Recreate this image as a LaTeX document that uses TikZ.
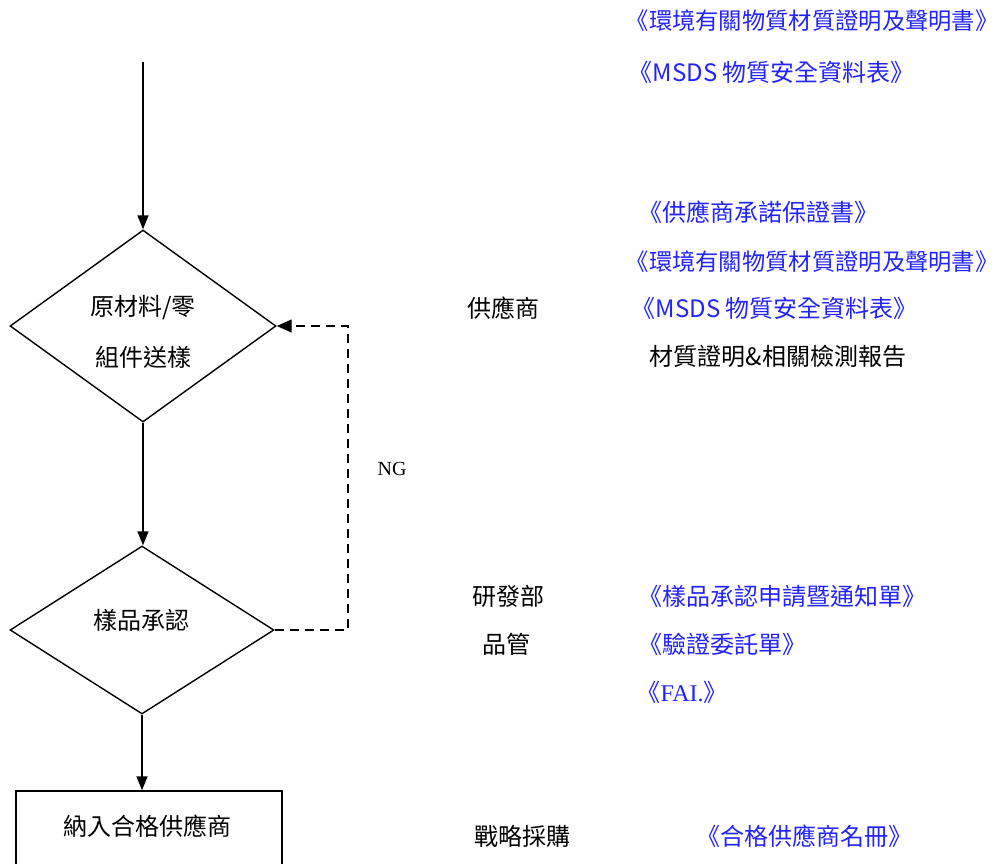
\documentclass[tikz,border=0pt]{standalone}
\usepackage{fontspec}
\setmainfont{Noto Sans CJK TC}
\newfontfamily\tnr{Liberation Serif}
\usetikzlibrary{shapes.geometric,arrows.meta}
\definecolor{docblue}{RGB}{35,35,255}
\begin{document}
\begin{tikzpicture}[x=1pt,y=-1pt,
  line width=1.4pt,
  flow/.style={-{Triangle[length=14pt,width=11pt]}},
  backflow/.style={dash pattern=on 9pt off 6pt,-{Triangle[length=15pt,width=13pt]}},
  dia/.style={draw,diamond,inner sep=0pt},
  txt/.style={inner sep=0pt,font=\fontsize{24}{24}\selectfont},
  reftxt/.style={txt,anchor=west,text=docblue},
  widetxt/.style={reftxt,font=\fontsize{23.3}{24}\selectfont},
  plain/.style={txt,anchor=west},
]
\useasboundingbox (0,0) rectangle (1000,863);
% flow shapes
\coordinate (start) at (143,62);
\node[dia,minimum width=266pt,minimum height=192pt] (d1) at (143,326) {};
\node[dia,minimum width=264pt,minimum height=168pt] (d2) at (142,630) {};
\node[draw,rectangle,minimum width=266pt,minimum height=90pt,inner sep=0pt] (box) at (149,836) {};
\coordinate (ngturn) at (348,326);
% labels inside shapes
\node[txt] (l1a) at (143,308) {原材料/零};
\node[txt] (l1b) at (143,357) {組件送樣};
\node[txt] (l2) at (141,620) {樣品承認};
\node[txt] (l3) at (147,826) {納入合格供應商};
% connectors
\draw[flow] (start) -- (d1.north);
\draw[flow] (d1.south) -- (d1.south |- d2.north);
\draw[flow] (d2.south) -- (d2.south |- box.north);
\draw[backflow] (d2.east) -| (ngturn) -- (d1.east);
\node[inner sep=0pt,font=\tnr\fontsize{20}{20}\selectfont] (ng) at (392,469) {NG};
% right-hand texts
\node[widetxt] (r1) at (625,21) {《環境有關物質材質證明及聲明書》};
\node[reftxt] (r2) at (628,72) {《MSDS 物質安全資料表》};
\node[reftxt] (r3) at (638,212) {《供應商承諾保證書》};
\node[widetxt] (r4) at (625,262) {《環境有關物質材質證明及聲明書》};
\node[reftxt] (r5) at (631,308) {《MSDS 物質安全資料表》};
\node[plain] (r6) at (649,356) {材質證明\&相關檢測報告};
\node[plain] (s1) at (467,308) {供應商};
\node[plain] (s2) at (472,596) {研發部};
\node[plain] (s3) at (482,644) {品管};
\node[reftxt] (r7) at (638,596) {《樣品承認申請暨通知單》};
\node[reftxt] (r8) at (638,644) {《驗證委託單》};
\node[reftxt] (r9) at (636,692) {《{\tnr FAI.}》};
\node[plain] (s4) at (474,836) {戰略採購};
\node[reftxt] (r10) at (696,836) {《合格供應商名冊》};
\end{tikzpicture}
\end{document}
